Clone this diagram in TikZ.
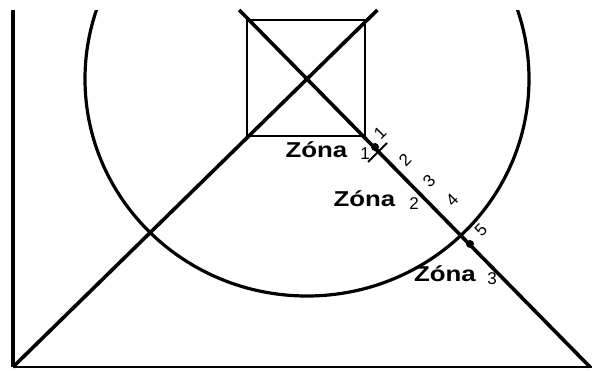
\documentclass[tikz,border=0pt]{standalone}
\usepackage{fontspec}
\setmainfont{Liberation Sans}
\begin{document}
\begin{tikzpicture}[x=1pt,y=-1pt,
  thickline/.style={line width=3.6pt},
  zonelabel/.style={font=\fontsize{21.5}{22}\selectfont\bfseries, xscale=1.2, inner sep=0pt},
  zonenum/.style={font=\fontsize{17}{18}\selectfont, inner sep=0pt},
  marknum/.style={font=\fontsize{17}{18}\selectfont, inner sep=0pt, rotate=45},
  dotmark/.style={circle, fill=black, inner sep=0pt, minimum size=8pt}]
\useasboundingbox (0,0) rectangle (593,370);
% key points
\coordinate (O) at (13,367);
\coordinate (VT) at (13,10);
\coordinate (BR) at (592,367);
\coordinate (C) at (307,79);
\coordinate (LT) at (377.4,10);
\coordinate (RT) at (239.2,10);
\coordinate (RB) at (590,367);
\coordinate (S1) at (247,20);
\coordinate (S2) at (365,20);
\coordinate (S3) at (365,136);
\coordinate (S4) at (247,136);
\coordinate (TA) at (368,162);
\coordinate (TB) at (387,143);
% circle clipped at the top
\begin{scope}
\clip (0,10) rectangle (593,370);
\draw[line width=3.2pt] (C) ellipse [x radius=222, y radius=217];
\end{scope}
% square
\draw[line width=1.7pt] (S1) -- (S2) -- (S3) -- (S4) -- cycle;
% axes
\draw[thickline] (VT) -- (O);
\draw[line width=2.4pt] (O) -- (BR);
% diagonals
\draw[thickline] (O) -- (LT);
\draw[thickline] (RT) -- (RB);
% tick and dots
\draw[line width=1.8pt] (TA) -- (TB);
\node[dotmark] (d1) at (375,147) {};
\node[dotmark] (d5) at (470,244) {};
% numbers along the line
\node[marknum] (n1) at (380,133) {1};
\node[marknum] (n2) at (405,160) {2};
\node[marknum] (n3) at (429,181) {3};
\node[marknum] (n4) at (452,200) {4};
\node[marknum] (n5) at (481,230) {5};
% zone labels
\node[zonelabel, anchor=base] (z1) at (316.5,157) {Zóna};
\node[zonenum, anchor=base] (z1n) at (365,159) {1};
\node[zonelabel, anchor=base] (z2) at (364.5,206) {Zóna};
\node[zonenum, anchor=base] (z2n) at (414,209) {2};
\node[zonelabel, anchor=base] (z3) at (445,281) {Zóna};
\node[zonenum, anchor=base] (z3n) at (492,284) {3};
\end{tikzpicture}
\end{document}
